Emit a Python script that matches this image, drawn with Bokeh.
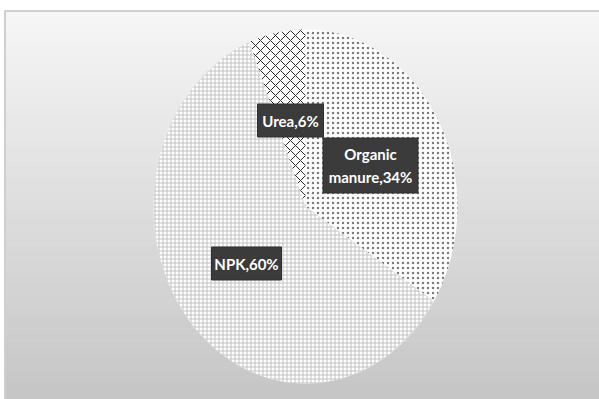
import numpy as np
from bokeh.plotting import figure
from bokeh.models import Range1d, ColumnDataSource
from bokeh.core.properties import value
from bokeh.embed import file_html
from bokeh.resources import INLINE

# ---- data ----
categories = ["Organic manure", "NPK", "Urea"]
shares = [34, 60, 6]
labels = ["Organic\nmanure,34%", "NPK,60%", "Urea,6%"]
hatches = ["dot", "cross", "diagonal_cross"]

W, H = 599, 399
p = figure(width=W, height=H, output_backend="svg", toolbar_location=None,
           x_range=Range1d(0, W), y_range=Range1d(H, 0), min_border=0)
p.axis.visible = False
p.grid.visible = False
p.outline_line_color = None
p.background_fill_color = "white"
p.border_fill_color = "white"

# background gradient (chart area) as horizontal bands
nb = 60
edges = np.linspace(11, H, nb + 1)
lv = np.linspace(246, 198, nb).astype(int)
cols = ["#%02x%02x%02x" % (l, l, l) for l in lv]
p.quad(left=5, right=W + 5, top=edges[:-1], bottom=edges[1:] + 0.5,
       fill_color=cols, line_color=None)
p.quad(left=[4.5], right=[W + 10], top=[10.5], bottom=[H + 10],
       fill_color=None, line_color="#cfcfcf", line_width=2)

# pie (elliptical)
cx, cy, rx, ry = 305, 206, 152, 177
cum = np.cumsum([0] + shares) / sum(shares) * 2 * np.pi
xs, ys = [], []
for a0, a1 in zip(cum[:-1], cum[1:]):
    th = np.linspace(a0, a1, 120)
    xs.append([cx] + list(cx + rx * np.sin(th)))
    ys.append([cy] + list(cy - ry * np.cos(th)))
src = ColumnDataSource(dict(xs=xs, ys=ys, hatch=hatches,
                            hc=["#7a7a7a", "#c2c2c2", "#2a2a2a"],
                            hs=[5, 4, 10], hw=[0.5, 1, 1]))
p.patches("xs", "ys", source=src, fill_color="white", line_color=None,
          hatch_pattern="hatch", hatch_color="hc", hatch_scale="hs",
          hatch_weight="hw")

# labels
lx = [370, 246, 290]
ly = [165, 263, 120]
bw = [95, 70, 66]
bh = [55, 33, 33]
p.rect(x=lx, y=ly, width=bw, height=bh, fill_color="#3b3b3b",
       line_color="#2e2e2e")
p.text(x=lx, y=ly, text=labels, text_color="white",
       text_font=value("Lato"), text_font_style="bold",
       text_font_size="15px", text_align="center", text_baseline="middle",
       text_line_height=1.3)

open("out.html", "w").write(file_html(p, INLINE))
